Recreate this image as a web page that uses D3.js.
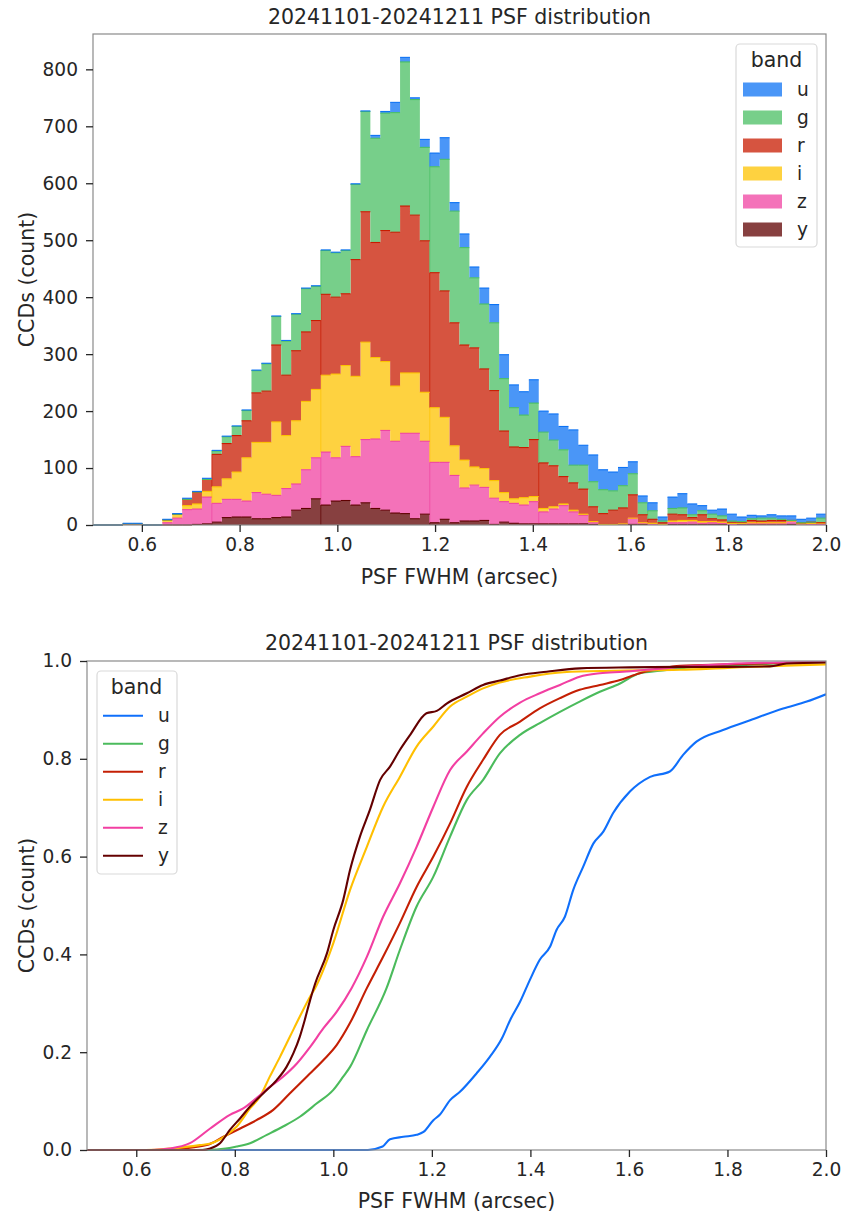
<!DOCTYPE html>
<html><head><meta charset="utf-8">
<script src="https://cdn.jsdelivr.net/npm/d3@7"></script>
<style>
html,body{margin:0;padding:0;background:#fff;}
svg{display:block;font-family:"DejaVu Sans",sans-serif;}
</style></head>
<body>
<svg id="chart" width="847" height="1215"></svg>
<script>
// ---------------- DATA ----------------
const title = "20241101-20241211 PSF distribution";
const bands = ["u", "g", "r", "i", "z", "y"];
const bandColors = ["#0d73f4", "#49bf63", "#c81b00", "#fdc300", "#f043a1", "#5f0000"];
const lineColors = ["#0f6ffb", "#4bbb5c", "#c41f04", "#ffbf00", "#f23fa2", "#640000"];

// histogram: 74 equal bins between 0.5 and 2.0 arcsec
const binLo = 0.5, binHi = 2.0, binCount = 74;
const histU = [0,0,0,1,1,0,0,1,1,2,1,2,1,1,1,1,1,1,1,1,1,1,1,1,1,1,1,1,5,3,18,8,3,14,24,38,15,24,19,28,32,42,40,41,41,37,46,41,62,35,47,35,33,32,21,12,14,7,20,25,19,9,7,12,12,8,6,4,6,6,8,6,7,7];
const histG = [0,0,0,0,0,0,0,0,0,0,0,0,6,12,16,18,39,48,50,60,64,76,60,77,78,76,132,176,183,206,210,253,203,164,186,231,196,171,123,114,119,92,69,57,64,54,45,47,31,42,44,42,34,39,37,21,15,3,10,12,5,7,8,7,2,1,3,5,4,2,0,0,0,8];
const histR = [0,0,0,0,0,0,0,0,0,11,21,21,57,62,64,65,87,90,135,106,123,122,121,142,135,126,205,229,202,230,270,293,277,266,237,222,216,202,209,175,158,108,91,88,100,80,72,48,48,44,26,19,25,28,41,14,7,3,12,10,5,12,5,4,2,2,4,3,4,4,1,2,2,0];
const histI = [0,0,0,1,1,0,0,5,7,7,9,10,29,36,48,76,88,91,129,93,111,120,120,135,147,142,141,171,143,121,97,106,106,86,96,79,52,49,32,33,31,16,8,13,9,6,4,3,3,2,1,0,0,0,0,0,2,0,3,4,3,3,2,2,2,1,2,2,2,2,0,1,2,3];
const histZ = [0,0,0,0,0,0,0,4,12,27,27,47,33,32,31,28,46,43,39,50,46,68,72,93,76,95,85,111,122,140,126,141,150,128,106,100,83,58,63,58,46,36,35,33,39,21,26,32,21,15,4,0,0,0,11,3,0,0,3,3,4,2,3,2,0,1,1,1,1,1,6,0,0,0];
const histY = [0,0,0,1,1,0,0,0,0,0,1,2,5,13,14,14,11,11,13,14,26,29,46,35,42,43,35,39,29,26,21,20,11,19,4,10,4,7,7,8,1,5,3,2,2,2,2,2,2,2,1,1,1,2,1,1,1,1,1,1,1,1,1,1,1,1,1,1,1,1,1,1,1,1];
const chunkStarts = [12, 23, 34, 45, 56, 67];

const histTicksX = [0.6, 0.8, 1.0, 1.2, 1.4, 1.6, 1.8, 2.0];
const histTicksY = [0, 100, 200, 300, 400, 500, 600, 700, 800];
const cdfTicksY = [0.0, 0.2, 0.4, 0.6, 0.8, 1.0];

// ECDF curves (proportion)
const cdfX_u = [0.5,1.07,1.10,1.115,1.142,1.169,1.183,1.203,1.216,1.237,1.257,1.291,1.318,1.342,1.359,1.379,1.399,1.419,1.440,1.453,1.470,1.487,1.507,1.528,1.548,1.568,1.602,1.643,1.683,1.710,1.737,1.791,1.846,1.913,1.961,2.0];
const cdfV_u = [0,0,0.007,0.022,0.027,0.031,0.037,0.061,0.072,0.102,0.119,0.157,0.191,0.228,0.266,0.303,0.348,0.389,0.416,0.450,0.477,0.532,0.579,0.627,0.651,0.689,0.733,0.763,0.774,0.808,0.835,0.859,0.879,0.903,0.917,0.932];
const cdfX_g = [0.5,0.72,0.763,0.804,0.831,0.865,0.898,0.932,0.966,1.0,1.020,1.034,1.068,1.108,1.135,1.169,1.203,1.237,1.271,1.304,1.338,1.379,1.419,1.460,1.50,1.541,1.582,1.622,1.663,1.704,1.80,1.90,2.0];
const cdfV_g = [0,0,0.001,0.007,0.014,0.031,0.048,0.068,0.095,0.123,0.150,0.170,0.245,0.331,0.409,0.498,0.559,0.641,0.716,0.757,0.811,0.849,0.873,0.896,0.917,0.937,0.954,0.975,0.980,0.985,0.990,0.995,0.998];
const cdfX_r = [0.5,0.66,0.695,0.743,0.777,0.811,0.844,0.878,0.912,0.946,0.980,1.007,1.034,1.068,1.101,1.135,1.169,1.203,1.237,1.271,1.304,1.338,1.379,1.419,1.460,1.50,1.541,1.582,1.622,1.663,1.704,1.80,1.90,2.0];
const cdfV_r = [0,0,0.003,0.010,0.027,0.044,0.061,0.082,0.116,0.150,0.184,0.215,0.260,0.331,0.395,0.464,0.538,0.600,0.668,0.743,0.798,0.849,0.876,0.903,0.924,0.941,0.951,0.961,0.975,0.984,0.990,0.993,0.996,0.998];
const cdfX_i = [0.5,0.62,0.668,0.729,0.753,0.784,0.804,0.831,0.851,0.871,0.892,0.912,0.932,0.953,0.963,1.0,1.034,1.068,1.101,1.135,1.169,1.203,1.237,1.271,1.304,1.338,1.399,1.467,1.568,1.704,1.80,1.90,2.0];
const cdfV_i = [0,0,0.003,0.010,0.014,0.031,0.048,0.085,0.109,0.150,0.191,0.232,0.273,0.314,0.331,0.423,0.532,0.620,0.702,0.763,0.825,0.866,0.907,0.927,0.944,0.956,0.968,0.977,0.980,0.982,0.986,0.990,0.993];
const cdfX_z = [0.5,0.63,0.668,0.709,0.750,0.790,0.817,0.844,0.871,0.898,0.926,0.953,0.980,1.007,1.037,1.068,1.101,1.135,1.169,1.203,1.237,1.271,1.304,1.338,1.379,1.419,1.460,1.50,1.541,1.588,1.636,1.704,1.80,1.90,2.0];
const cdfV_z = [0,0,0.003,0.014,0.044,0.072,0.085,0.106,0.129,0.150,0.177,0.211,0.249,0.283,0.331,0.395,0.477,0.545,0.620,0.702,0.777,0.815,0.852,0.886,0.915,0.934,0.951,0.968,0.975,0.978,0.982,0.988,0.994,0.997,0.998];
const cdfX_y = [0.5,0.735,0.750,0.770,0.790,0.811,0.831,0.858,0.885,0.905,0.919,0.932,0.942,0.953,0.963,0.987,1.0,1.020,1.034,1.054,1.074,1.095,1.115,1.135,1.156,1.189,1.210,1.230,1.271,1.304,1.338,1.379,1.433,1.50,1.602,1.704,1.80,1.886,1.92,2.0];
const cdfV_y = [0,0,0.003,0.014,0.041,0.065,0.089,0.116,0.143,0.170,0.198,0.232,0.266,0.307,0.340,0.402,0.450,0.511,0.573,0.641,0.695,0.757,0.784,0.818,0.849,0.893,0.898,0.913,0.934,0.951,0.960,0.971,0.978,0.985,0.987,0.988,0.988,0.989,0.995,0.997];

// ---------------- DRAW ----------------
const svg = d3.select("#chart");
const TXT = "#262626", SPINE = "#8a8a8a";
const FS_TITLE = 20.5, FS_TICK = 18.6, FS_LEG = 18.6;

function fillFrom(c, a) { // colour blended with white
  const r = d3.rgb(c);
  return d3.rgb(r.r*a + 255*(1-a), r.g*a + 255*(1-a), r.b*a + 255*(1-a)).formatHex();
}

function styleAxis(g) {
  g.select(".domain").remove();
  g.selectAll(".tick line").attr("stroke", TXT).attr("stroke-width", 1.3);
  g.selectAll(".tick text").attr("fill", TXT).attr("font-size", FS_TICK)
    .attr("font-family", "DejaVu Sans");
}

function frame(box) {
  svg.append("rect").attr("x", box.l).attr("y", box.t)
    .attr("width", box.r - box.l).attr("height", box.b - box.t)
    .attr("fill", "none").attr("stroke", SPINE).attr("stroke-width", 1.2);
}

function labels(box, xl, yl, ty, xly) {
  const cx = (box.l + box.r) / 2;
  svg.append("text").attr("x", cx).attr("y", ty).attr("text-anchor", "middle")
    .attr("font-size", FS_TITLE).attr("fill", TXT).text(title);
  svg.append("text").attr("x", cx).attr("y", xly).attr("text-anchor", "middle")
    .attr("font-size", FS_TITLE).attr("fill", TXT).text(xl);
  svg.append("text").attr("transform", `translate(34,${(box.t + box.b) / 2}) rotate(-90)`)
    .attr("text-anchor", "middle").attr("font-size", FS_TITLE).attr("fill", TXT).text(yl);
}

// ===== Top: stacked histogram =====
const B1 = {l: 93, r: 826, t: 34, b: 525};
const x1 = d3.scaleLinear().domain([binLo, binHi]).range([B1.l, B1.r]);
const series = {u: histU, g: histG, r: histR, i: histI, z: histZ, y: histY};
const bw = (binHi - binLo) / binCount;
const rows = d3.range(binCount + 1).map(k => {
  const kk = Math.min(k, binCount - 1);
  const o = {x: binLo + k * bw};
  bands.forEach(b => o[b] = series[b][kk]);
  return o;
});
const stackKeys = bands.slice().reverse(); // y at the bottom, u on top
const stacked = d3.stack().keys(stackKeys)(rows);
const totMax = d3.max(rows, d => d3.sum(bands, b => d[b]));
const y1 = d3.scaleLinear().domain([0, totMax * 1.05]).range([B1.b, B1.t]);

const gH = svg.append("g");
stacked.forEach(layer => {
  const bi = bands.indexOf(layer.key);
  const col = bandColors[bi];
  gH.append("path").datum(layer)
    .attr("d", d3.area().curve(d3.curveStepAfter)
      .x(d => x1(d.data.x)).y0(d => y1(d[0])).y1(d => y1(d[1])))
    .attr("fill", fillFrom(col, 0.75)).attr("stroke", "none");
  // chunk boundary edges
  chunkStarts.forEach(k => {
    const d = layer[k];
    if (d[1] - d[0] > 0) {
      gH.append("line").attr("x1", x1(d.data.x)).attr("x2", x1(d.data.x))
        .attr("y1", y1(d[0])).attr("y2", y1(d[1]))
        .attr("stroke", col).attr("stroke-width", 1).attr("opacity", 0.7);
    }
  });
});
// horizontal top edges of each layer
stacked.forEach(layer => {
  const bi = bands.indexOf(layer.key);
  gH.append("g").selectAll("line").data(layer.slice(0, binCount)).join("line")
    .attr("x1", d => x1(d.data.x)).attr("x2", d => x1(d.data.x + bw))
    .attr("y1", d => y1(d[1])).attr("y2", d => y1(d[1]))
    .attr("stroke", bandColors[bi]).attr("stroke-width", 1.1);
});

frame(B1);
svg.append("g").attr("transform", `translate(0,${B1.b})`)
  .call(d3.axisBottom(x1).tickValues(histTicksX).tickFormat(d3.format(".1f")).tickSize(7).tickPadding(6))
  .call(styleAxis);
svg.append("g").attr("transform", `translate(${B1.l},0)`)
  .call(d3.axisLeft(y1).tickValues(histTicksY).tickFormat(d3.format("d")).tickSize(7).tickPadding(8))
  .call(styleAxis);
labels(B1, "PSF FWHM (arcsec)", "CCDs (count)", 24, 584);

// legend top (patches)
const L1 = {x: 736, y: 44, w: 81, h: 203};
const lg1 = svg.append("g");
lg1.append("rect").attr("x", L1.x).attr("y", L1.y).attr("width", L1.w).attr("height", L1.h)
  .attr("rx", 4).attr("fill", "#fff").attr("fill-opacity", 0.8).attr("stroke", "#d9d9d9").attr("stroke-width", 1.2);
lg1.append("text").attr("x", L1.x + L1.w / 2).attr("y", 67).attr("text-anchor", "middle")
  .attr("font-size", FS_TITLE).attr("fill", TXT).text("band");
bands.forEach((b, i) => {
  const cy = 89.5 + i * 28;
  lg1.append("rect").attr("x", 743).attr("y", cy - 7).attr("width", 39).attr("height", 14)
    .attr("fill", fillFrom(bandColors[i], 0.75));
  lg1.append("text").attr("x", 797).attr("y", cy + 6.5).attr("font-size", FS_LEG)
    .attr("fill", TXT).text(b);
});

// ===== Bottom: ECDF =====
const B2 = {l: 87, r: 826, t: 661, b: 1150};
const x2 = d3.scaleLinear().domain([binLo, binHi]).range([B2.l, B2.r]);
const y2 = d3.scaleLinear().domain([0, 1]).range([B2.b, B2.t]);
svg.append("clipPath").attr("id", "clip2").append("rect")
  .attr("x", B2.l).attr("y", B2.t - 2).attr("width", B2.r - B2.l).attr("height", B2.b - B2.t + 4);
const cdf = {
  u: [cdfX_u, cdfV_u], g: [cdfX_g, cdfV_g], r: [cdfX_r, cdfV_r],
  i: [cdfX_i, cdfV_i], z: [cdfX_z, cdfV_z], y: [cdfX_y, cdfV_y]
};
const gC = svg.append("g").attr("clip-path", "url(#clip2)");
const ln = d3.line().curve(d3.curveMonotoneX).x(d => x2(d[0])).y(d => y2(d[1]));
bands.forEach((b, i) => {
  const pts = cdf[b][0].map((xv, j) => [xv, cdf[b][1][j]]);
  gC.append("path").datum(pts).attr("d", ln)
    .attr("fill", "none").attr("stroke", lineColors[i]).attr("stroke-width", 2.1)
    .attr("stroke-linejoin", "round");
});
frame(B2);
svg.append("g").attr("transform", `translate(0,${B2.b})`)
  .call(d3.axisBottom(x2).tickValues(histTicksX).tickFormat(d3.format(".1f")).tickSize(7).tickPadding(6))
  .call(styleAxis);
svg.append("g").attr("transform", `translate(${B2.l},0)`)
  .call(d3.axisLeft(y2).tickValues(cdfTicksY).tickFormat(d3.format(".1f")).tickSize(7).tickPadding(8))
  .call(styleAxis);
labels(B2, "PSF FWHM (arcsec)", "CCDs (count)", 650, 1208);

// legend bottom (lines)
const L2 = {x: 97, y: 671, w: 80, h: 203};
const lg2 = svg.append("g");
lg2.append("rect").attr("x", L2.x).attr("y", L2.y).attr("width", L2.w).attr("height", L2.h)
  .attr("rx", 4).attr("fill", "#fff").attr("fill-opacity", 0.8).attr("stroke", "#d9d9d9").attr("stroke-width", 1.2);
lg2.append("text").attr("x", L2.x + L2.w / 2 - 0.5).attr("y", 694).attr("text-anchor", "middle")
  .attr("font-size", FS_TITLE).attr("fill", TXT).text("band");
bands.forEach((b, i) => {
  const cy = 715.7 + i * 28;
  lg2.append("line").attr("x1", 103).attr("x2", 143).attr("y1", cy).attr("y2", cy)
    .attr("stroke", lineColors[i]).attr("stroke-width", 2.1);
  lg2.append("text").attr("x", 158).attr("y", cy + 6.5).attr("font-size", FS_LEG)
    .attr("fill", TXT).text(b);
});
</script>
</body></html>
